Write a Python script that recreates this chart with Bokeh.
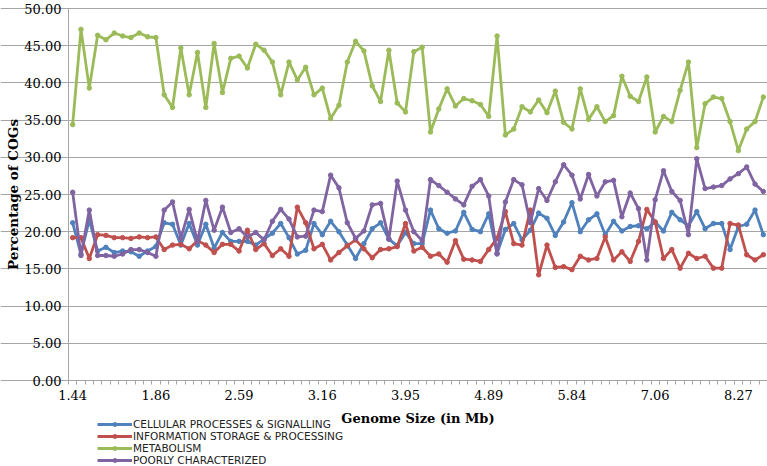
from bokeh.plotting import figure
from bokeh.models import FixedTicker, NumeralTickFormatter, Legend, LegendItem
from bokeh.embed import file_html
from bokeh.resources import INLINE

# ---- data ----
tick_index = [0, 10, 20, 30, 40, 50, 60, 70, 80]
tick_labels = ["1.44", "1.86", "2.59", "3.16", "3.95", "4.89", "5.84", "7.06", "8.27"]

series_names = [
    "CELLULAR PROCESSES & SIGNALLING",
    "INFORMATION STORAGE & PROCESSING",
    "METABOLISM",
    "POORLY CHARACTERIZED",
]

cellular = [21.2, 17.0, 21.6, 17.4, 17.9, 17.2, 17.4, 17.3, 16.7, 17.4,
            18.0, 21.2, 21.0, 18.2, 21.1, 18.2, 21.0, 17.8, 19.9, 18.7,
            18.7, 18.7, 18.2,
            19.0, 19.8, 21.1, 19.2, 17.0, 17.5, 21.1, 19.6, 21.4, 20.0,
            18.2, 16.4, 18.4, 20.4, 21.2, 19.0, 18.1, 19.9, 18.4, 18.4,
            22.9, 20.4, 19.8, 20.1, 22.6, 20.3, 20.0, 22.4, 17.1,
            20.3, 21.1, 18.9, 20.2, 22.5, 21.8, 19.5, 21.3, 23.9, 20.0,
            21.6, 22.4, 19.6, 21.4, 20.1, 20.7, 20.8, 20.4, 21.3, 20.1,
            22.6, 21.6, 20.8, 22.7, 20.4, 21.1, 21.1, 17.6, 20.7, 21.0,
            22.9, 19.6]

information = [19.2, 19.2, 16.4, 19.6, 19.5, 19.2, 19.2, 19.1, 19.3, 19.2,
               19.3, 17.6, 18.2, 18.3, 17.7, 18.8, 18.2, 17.2, 18.3, 18.3,
               17.4, 20.2, 17.6,
               18.4, 16.8, 17.7, 16.7, 23.3, 21.2, 17.7, 18.3, 16.2, 17.2,
               18.1, 18.9, 17.7, 16.5, 17.6, 17.7, 18.0, 21.1, 17.4, 17.9,
               16.7, 17.0, 15.9, 18.8, 16.3, 16.2, 16.0, 17.6, 19.1,
               22.7, 18.4, 18.2, 22.9, 14.2, 18.2, 15.2, 15.3, 14.9, 16.7,
               16.2, 16.4, 19.3, 16.2, 17.3, 16.0, 18.7, 23.0, 21.3, 16.4,
               17.6, 15.1, 17.1, 16.4, 16.7, 15.1, 15.1, 21.1, 20.9, 16.9,
               16.2, 16.9]

metabolism = [34.4, 47.2, 39.3, 46.4, 45.8, 46.7, 46.3, 46.1, 46.7, 46.2,
              46.1, 38.4, 36.7, 44.7, 38.4, 44.1, 36.7, 45.3, 38.7, 43.3,
              43.6, 42.0, 45.2,
              44.4, 42.8, 38.4, 42.8, 40.4, 42.1, 38.4, 39.3, 35.2, 37.0,
              42.8, 45.6, 44.3, 39.6, 37.5, 44.4, 37.3, 36.1, 44.2, 44.8,
              33.4, 36.5, 39.2, 36.9, 37.9, 37.6, 37.1, 35.5, 46.3,
              33.0, 33.8, 36.8, 36.1, 37.7, 36.0, 38.9, 34.7, 33.8, 39.2,
              35.1, 36.8, 34.8, 35.6, 40.9, 38.2, 37.5, 40.8, 33.4, 35.5,
              34.8, 39.0, 42.8, 31.3, 37.2, 38.1, 37.9, 34.8, 30.9, 33.8,
              34.8, 38.1]

poorly = [25.3, 16.8, 22.9, 16.8, 16.8, 16.7, 17.0, 17.6, 17.6, 17.2,
          16.7, 22.9, 24.0, 19.1, 23.0, 18.7, 24.2, 20.2, 23.3, 19.9,
          20.4, 19.3, 19.9,
          18.9, 21.4, 23.0, 21.7, 19.3, 19.4, 22.9, 22.7, 27.6, 25.9,
          21.2, 19.1, 20.1, 23.6, 23.8, 19.0, 26.8, 22.9, 20.0, 18.8,
          27.0, 26.2, 25.3, 24.4, 23.6, 26.1, 27.0, 24.8, 17.0,
          24.0, 27.0, 26.3, 21.2, 25.8, 24.2, 26.7, 29.0, 27.6, 24.4,
          27.7, 24.8, 26.7, 26.9, 22.0, 25.2, 23.1, 16.2, 24.3, 28.2,
          25.4, 24.2, 19.6, 29.8, 25.8, 26.0, 26.2, 27.1, 27.8, 28.7,
          26.4, 25.4]

colors = ["#4F81BD", "#C0504D", "#9BBB59", "#8064A2"]
all_series = [cellular, information, metabolism, poorly]

n = len(metabolism)
x = list(range(n))

# ---- layout plan in canvas pixels ----
W, H = 767, 466
AX_LEFT = 68            # pixel of the value axis (x = -0.5)
Y_TOP_PX, Y_ZERO_PX = 8, 380   # pixels of y = 50 and y = 0
Y_MAX_VAL = 50
x_lo, x_hi = -0.5, n - 0.5
ppx = (W - AX_LEFT) / (x_hi - x_lo)
ppy = (Y_ZERO_PX - Y_TOP_PX) / Y_MAX_VAL
x_start = x_lo - AX_LEFT / ppx
y_end = Y_MAX_VAL + Y_TOP_PX / ppy
y_start = -(H - Y_ZERO_PX) / ppy

p = figure(width=W, height=H, output_backend="svg", toolbar_location=None,
           x_range=(x_start, x_hi), y_range=(y_start, y_end),
           min_border=0, min_border_left=0, min_border_right=0,
           min_border_top=0, min_border_bottom=0)
p.outline_line_color = None
p.background_fill_color = "white"
p.border_fill_color = "white"

grid_gray = "#A6A6A6"
p.xgrid.visible = False
p.ygrid.grid_line_color = grid_gray
p.ygrid.grid_line_width = 1
p.ygrid.bounds = (x_lo, x_hi)

# y axis pinned at the left edge of the category area
p.yaxis.fixed_location = x_lo
p.yaxis.bounds = (0, Y_MAX_VAL)
p.yaxis.ticker = FixedTicker(ticks=list(range(0, 51, 5)))
p.yaxis.formatter = NumeralTickFormatter(format="0.00")
p.yaxis.axis_line_color = grid_gray
p.yaxis.major_tick_line_color = grid_gray
p.yaxis.major_tick_out = 5
p.yaxis.major_tick_in = 0
p.yaxis.minor_tick_line_color = None
p.yaxis.major_label_standoff = 2
p.yaxis.axis_label = "Percentage of COGs"
p.yaxis.axis_label_standoff = 0

# x axis pinned at y = 0
p.xaxis.fixed_location = 0
p.xaxis.bounds = (x_lo, x_hi)
p.xaxis.ticker = FixedTicker(ticks=tick_index,
                             minor_ticks=[i - 0.5 for i in range(n + 1)])
p.xaxis.major_label_overrides = {t: lbl for t, lbl in zip(tick_index, tick_labels)}
p.xaxis.axis_line_color = grid_gray
p.xaxis.major_tick_out = 0
p.xaxis.major_tick_in = 0
p.xaxis.minor_tick_out = 4
p.xaxis.minor_tick_in = 0
p.xaxis.minor_tick_line_color = grid_gray
p.xaxis.major_label_standoff = 5
p.xaxis.axis_label = "Genome Size (in Mb)"
p.xaxis.axis_label_standoff = 8

for ax in (p.xaxis, p.yaxis):
    ax.major_label_text_font = "DejaVu Serif"
    ax.major_label_text_font_size = "13px"
    ax.major_label_text_color = "black"
    ax.axis_label_text_font = "DejaVu Serif"
    ax.axis_label_text_font_style = "bold"
    ax.axis_label_text_color = "black"
p.xaxis.axis_label_text_font_size = "13px"
p.yaxis.axis_label_text_font_size = "13.5px"

items = []
for name, ys, c in zip(series_names, all_series, colors):
    r1 = p.line(x, ys, line_color=c, line_width=2.8)
    r2 = p.scatter(x, ys, size=4.5, fill_color=c, line_color=c)
    items.append(LegendItem(label=name, renderers=[r1, r2]))

legend = Legend(items=items, location=(97, 0), orientation="vertical",
                label_text_font="DejaVu Sans", label_text_font_size="10.5px",
                label_text_color="#222222",
                glyph_width=35, glyph_height=10, label_height=10,
                spacing=0, padding=0, margin=0, label_standoff=1,
                border_line_color=None, background_fill_alpha=0)
p.add_layout(legend, "center")

open("out.html", "w").write(file_html(p, INLINE))
